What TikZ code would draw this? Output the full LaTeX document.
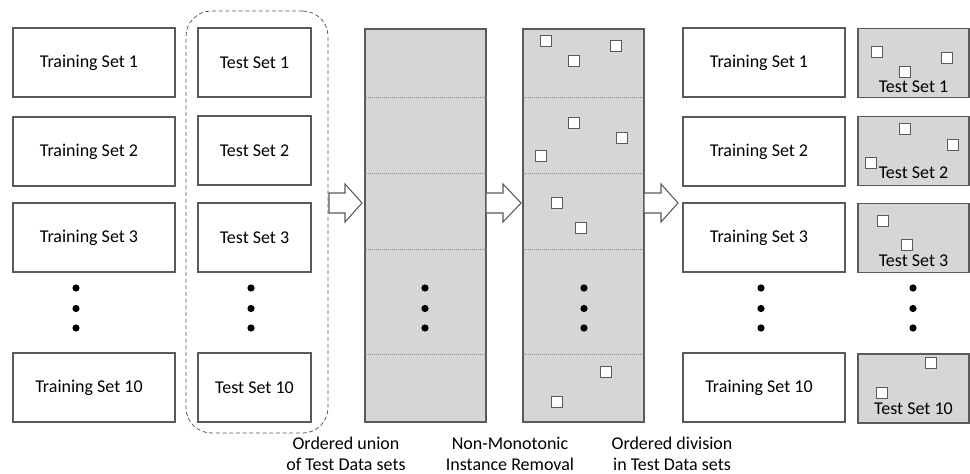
\documentclass[tikz,border=0pt]{standalone}
\usepackage{fontspec}
\setmainfont{Carlito}
\definecolor{edge}{HTML}{5A5A5A}
\definecolor{panel}{HTML}{D6D6D6}
\definecolor{sepgray}{HTML}{8C8C8C}
\begin{document}
\begin{tikzpicture}[x=0.75pt,y=-0.75pt,
  font=\fontsize{13.5}{15.75}\selectfont,
  box/.style={draw=edge,line width=0.9pt,inner sep=0pt,minimum height=51.75pt},
  trainbox/.style={box,fill=white,minimum width=121.5pt},
  testbox/.style={box,fill=white,minimum width=84.75pt},
  graybox/.style={box,fill=panel,minimum width=83.25pt},
  column/.style={draw=edge,line width=0.9pt,fill=panel,inner sep=0pt,
    minimum width=90.75pt,minimum height=294.75pt},
  group/.style={draw=edge,densely dashed,line width=0.6pt,rounded corners=19pt,
    inner sep=0pt,minimum width=106.5pt,minimum height=316.5pt},
  sep/.style={draw=sepgray,densely dotted,line width=0.5pt},
  inst/.style={draw=edge,fill=white,line width=0.8pt,minimum size=8.25pt,inner sep=0pt},
  blob/.style={circle,fill=black,minimum size=5.4pt,inner sep=0pt},
  caption/.style={align=center},
  blockarrow/.style={draw=edge,fill=white,line width=0.8pt,line join=miter}
]
\useasboundingbox (0,0) rectangle (970,474);
% training-set labels sit slightly left of the box centre
\newcommand\trainlabel[1]{#1\hspace*{7.5pt}}

% training sets (left)
\node[trainbox] (tr1)  at (94,62.5)  {\trainlabel{Training Set 1}};
\node[trainbox] (tr2)  at (94,151.5) {\trainlabel{Training Set 2}};
\node[trainbox] (tr3)  at (94,237.5) {\trainlabel{Training Set 3}};
\node[trainbox] (tr10) at (94,387.5) {\trainlabel{Training Set 10}};

% test sets, grouped
\node[group] (grp) at (257,222) {};
\node[testbox] (te1)  at (254.5,62.5)  {Test Set 1};
\node[testbox] (te2)  at (254.5,150.5) {Test Set 2};
\node[testbox] (te3)  at (254.5,237.5) {Test Set 3};
\node[testbox] (te10) at (254.5,387.5) {Test Set 10};

% ordered union column
\node[column] (col1) at (425.5,225.5) {};
% after instance removal
\node[column] (col2) at (583.5,225.5) {};
\foreach \c in {col1,col2}
  \foreach \y in {97,173,249,354}
    \draw[sep] (\c.west |- 0,\y) -- (\c.east |- 0,\y);

% training sets (right)
\node[trainbox] (rt1)  at (764,62.5)  {\trainlabel{Training Set 1}};
\node[trainbox] (rt2)  at (764,151.5) {\trainlabel{Training Set 2}};
\node[trainbox] (rt3)  at (764,237.5) {\trainlabel{Training Set 3}};
\node[trainbox] (rt10) at (764,387.5) {\trainlabel{Training Set 10}};

% reduced test sets
\node[graybox] (g1)  at (913.5,63)  {};
\node[graybox] (g2)  at (913.5,151) {};
\node[graybox] (g3)  at (913.5,238) {};
\node[graybox] (g10) at (913.5,388.5) {};

% remaining instances in the column
\node[inst] (s1)  at (546,41)  {};
\node[inst] (s2)  at (616,46)  {};
\node[inst] (s3)  at (574,61)  {};
\node[inst] (s4)  at (574,123) {};
\node[inst] (s5)  at (622,138) {};
\node[inst] (s6)  at (541,156) {};
\node[inst] (s7)  at (557,203) {};
\node[inst] (s8)  at (581,228) {};
\node[inst] (s9)  at (606,372) {};
\node[inst] (s10) at (557,402) {};

% remaining instances per test set
\node[inst] (r1)  at (877,52)  {};
\node[inst] (r2)  at (947,58)  {};
\node[inst] (r3)  at (905,72)  {};
\node[inst] (r4)  at (905,129) {};
\node[inst] (r5)  at (953,145) {};
\node[inst] (r6)  at (871,163) {};
\node[inst] (r7)  at (883,221) {};
\node[inst] (r8)  at (907,245) {};
\node[inst] (r9)  at (931,363) {};
\node[inst] (r10) at (882,393) {};

\node[anchor=base] (g1t)  at (913.5,93)  {Test Set 1};
\node[anchor=base] (g2t)  at (913.5,178) {Test Set 2};
\node[anchor=base] (g3t)  at (913.5,266) {Test Set 3};
\node[anchor=base] (g10t) at (913.5,414) {Test Set 10};

% ellipsis dots
\foreach \x/\n in {76/a,251/b,425/c,584/d,761/e,913/f}
  \foreach \y/\m in {288/1,308.5/2,328/3}
    \node[blob] (dot-\n\m) at (\x,\y) {};

% block arrows
\foreach \s/\b/\t in {329/345/362,486/503/521,644/661/678}
  \draw[blockarrow] (\s,193) -- (\b,193) -- (\b,184) -- (\t,203)
    -- (\b,222) -- (\b,213) -- (\s,213) -- cycle;

% captions
\node[caption] (cap1) at (346,454) {Ordered union\\of Test Data sets};
\node[caption] (cap2) at (510,454) {Non-Monotonic\\Instance Removal};
\node[caption] (cap3) at (672,454) {Ordered division\\in Test Data sets};
\end{tikzpicture}
\end{document}
